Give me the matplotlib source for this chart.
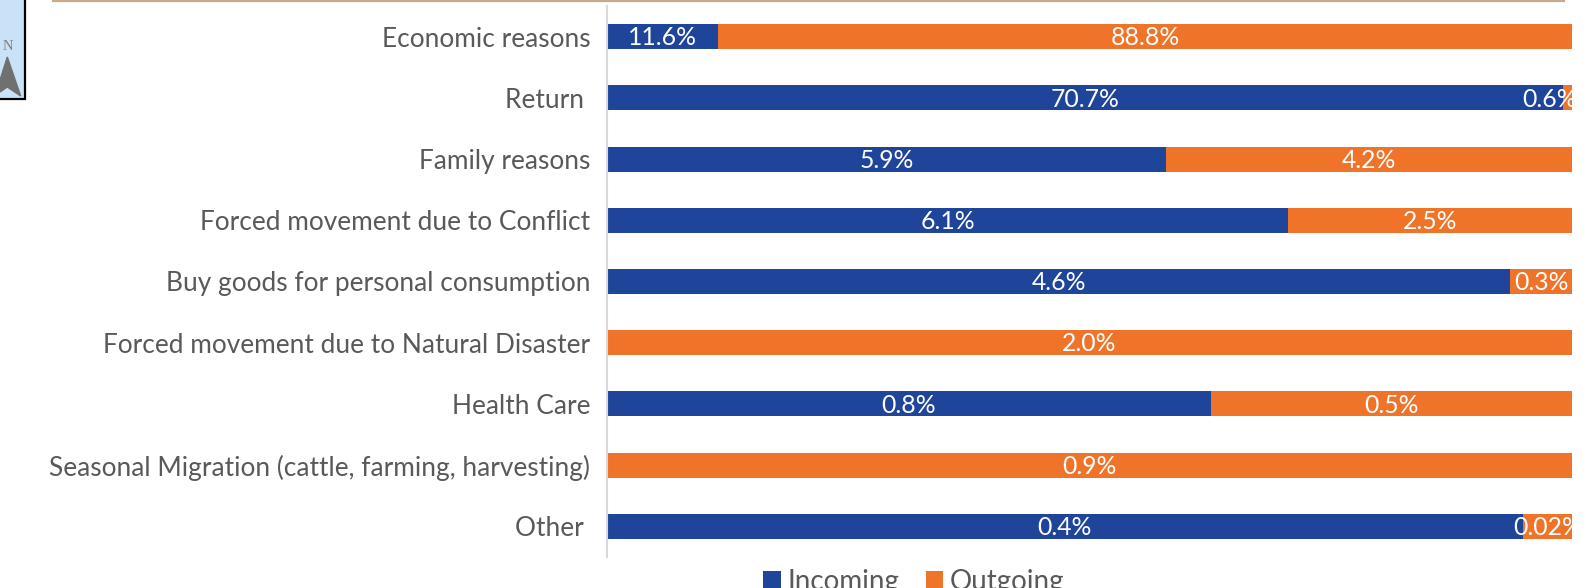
import matplotlib
matplotlib.use("Agg")
import matplotlib.pyplot as plt
from matplotlib.patches import Polygon, Rectangle

plt.rcParams["font.family"] = ["Lato", "DejaVu Sans"]

reasons = [
    "Economic reasons",
    "Return ",
    "Family reasons",
    "Forced movement due to Conflict",
    "Buy goods for personal consumption",
    "Forced movement due to Natural Disaster",
    "Health Care",
    "Seasonal Migration (cattle, farming, harvesting)",
    "Other ",
]
# share of each bar that is incoming
in_share = [0.115, 0.991, 0.579, 0.706, 0.936, 0, 0.626, 0, 0.949]
out_share = [0.885, 0.009, 0.421, 0.294, 0.064, 1, 0.374, 1, 0.051]
in_labels = ["11.6%", "70.7%", "5.9%", "6.1%", "4.6%", "", "0.8%", "", "0.4%"]
out_labels = ["88.8%", "0.6%", "4.2%", "2.5%", "0.3%", "2.0%", "0.5%", "0.9%", "0.02%"]

blue = "#1F459B"
orange = "#EF7328"
grey = "#595959"
W, H = 1586, 588

fig = plt.figure(figsize=(W / 100, H / 100), dpi=100)
ax = fig.add_axes([607 / W, 1 - 557 / H, (1572 - 607) / W, (557 - 6) / H])

y = list(range(len(reasons)))

bars_in = ax.barh(y, in_share, height=0.41, color=blue, label="Incoming")
bars_out = ax.barh(y, out_share, left=in_share, height=0.41, color=orange, label="Outgoing")

for i in y:
    if in_labels[i]:
        ax.text(in_share[i] / 2, i + 0.02, in_labels[i], color="white", fontsize=17.8,
                ha="center", va="center", clip_on=True)
    # small end segments cannot hold the label, it gets pushed back a bit
    cx = min(in_share[i] + out_share[i] / 2, 0.977)
    ax.text(cx, i + 0.02, out_labels[i], color="white", fontsize=17.8,
            ha="center", va="center", clip_on=True)

ax.set_xlim(0, 1)
ax.set_ylim(len(reasons) - 0.5, -0.5)
ax.set_xticks([])
ax.set_yticks(y)
ax.set_yticklabels(reasons, fontsize=18.95, color=grey)
ax.tick_params(axis="y", length=0, pad=12)
for s in ["top", "right", "bottom"]:
    ax.spines[s].set_visible(False)
ax.spines["left"].set_color("#D9D9D9")
ax.spines["left"].set_linewidth(1.5)

fig.legend(handles=[bars_in, bars_out], loc="center", ncol=2, frameon=False,
           bbox_to_anchor=(914 / W, 1 - 582 / H), fontsize=20, labelcolor=grey,
           handlelength=0.62, handleheight=0.62, handletextpad=0.25, columnspacing=0.95,
           borderpad=0, borderaxespad=0)

# page decoration around the chart: top rule and corner of the map inset
deco = fig.add_axes([0, 0, 1, 1], zorder=-1)
deco.set_xlim(0, W)
deco.set_ylim(H, 0)
deco.axis("off")
deco.plot([53, 1564], [1, 1], color="#C8A989", lw=1.6)
deco.add_patch(Rectangle((-2, -2), 27, 101, facecolor="#C9E2F8", edgecolor="black", lw=1.6))
deco.add_patch(Polygon([(7.3, 57), (20.7, 96), (7.3, 87), (0, 92), (0, 80)], color="#707070"))
deco.text(7.5, 46, "N", color="#808080", fontsize=10.5, family="Liberation Serif", ha="center", va="center")

fig.savefig("out.png", dpi=100)
